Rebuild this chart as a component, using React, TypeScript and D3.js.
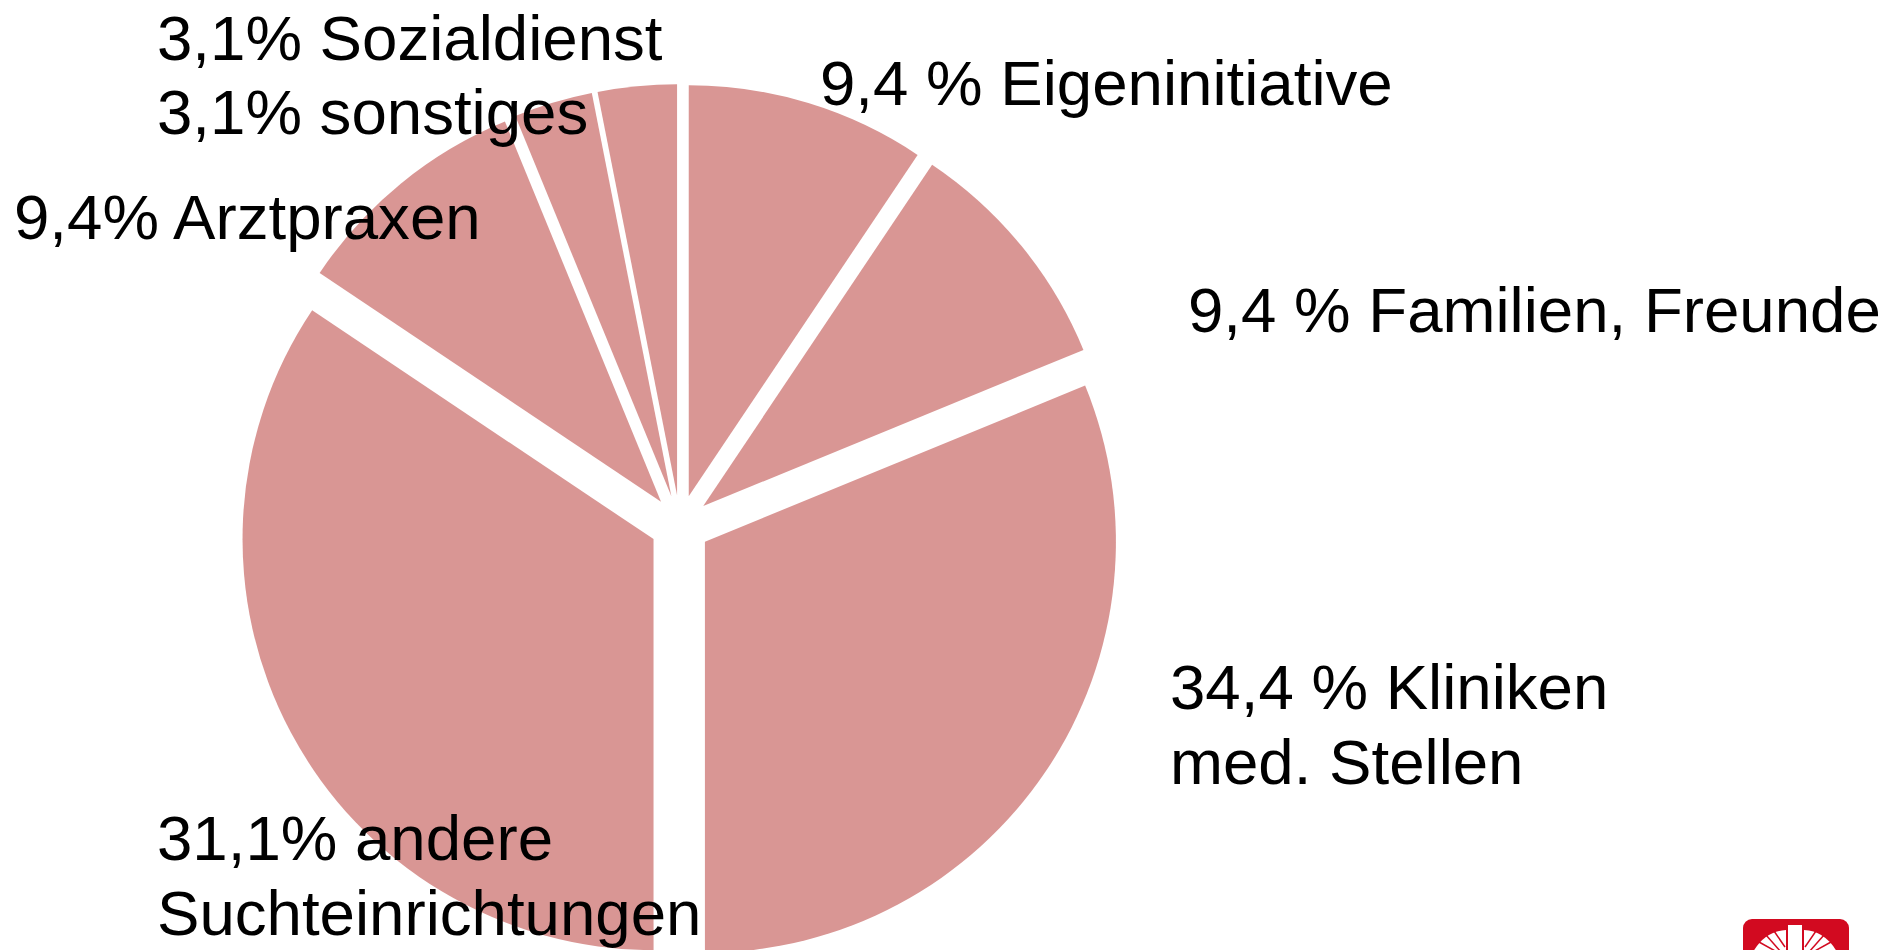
import React, { useEffect, useRef } from 'react';
import * as d3 from 'd3';

// slices clockwise from 12 o'clock (sizes as drawn)
const categories = [
  'Eigeninitiative',
  'Familien, Freunde',
  'Kliniken med. Stellen',
  'andere Suchteinrichtungen',
  'Arztpraxen',
  'sonstiges',
  'Sozialdienst',
];
const sliceValues = [9.4, 9.4, 31.2, 34.4, 9.4, 3.1, 3.1];
const labelLines = [
  ['9,4 % Eigeninitiative'],
  ['9,4 % Familien, Freunde'],
  ['34,4 % Kliniken', 'med. Stellen'],
  ['31,1% andere', 'Suchteinrichtungen'],
  ['9,4% Arztpraxen'],
  ['3,1% sonstiges'],
  ['3,1% Sozialdienst'],
];

const App = () => {
  const svgRef = useRef<SVGSVGElement>(null);

  useEffect(() => {
    const svg = d3.select(svgRef.current);
    svg.selectAll('*').remove();

    const width = 1891;
    const height = 950;
    const cx = 680;
    const cy = 525;
    const radius = 411;
    const explode = 30;
    const fill = '#D99694';

    const data = categories.map((c, i) => ({ name: c, value: sliceValues[i], lines: labelLines[i] }));

    const pie = d3.pie<any>().value(d => d.value).sort(null);
    const arc = d3.arc<any>().innerRadius(0).outerRadius(radius);

    const g = svg.append('g').attr('transform', `translate(${cx},${cy})`);

    g.selectAll('path')
      .data(pie(data))
      .enter()
      .append('path')
      .attr('d', arc)
      .attr('fill', fill)
      .attr('transform', d => {
        const a = (d.startAngle + d.endAngle) / 2;
        return `translate(${explode * Math.sin(a)},${-explode * Math.cos(a)})`;
      });

    // label placement (left x, first baseline)
    const labelPos = [
      [820, 105],
      [1188, 332],
      [1170, 709],
      [157, 860],
      [14, 239],
      [157, 134],
      [157, 60],
    ];
    const lineHeight = 75;

    const labels = svg.append('g')
      .style('font-family', '"Liberation Sans", Arial, sans-serif')
      .style('font-size', '63.6px')
      .attr('fill', '#000');

    data.forEach((d, i) => {
      const t = labels.append('text')
        .attr('x', labelPos[i][0])
        .attr('y', labelPos[i][1]);
      d.lines.forEach((line, j) => {
        t.append('tspan')
          .attr('x', labelPos[i][0])
          .attr('dy', j === 0 ? 0 : lineHeight)
          .text(line);
      });
    });

    // logo in the corner
    const logo = svg.append('g').attr('transform', 'translate(1743,919)');
    logo.append('rect')
      .attr('width', 106)
      .attr('height', 80)
      .attr('rx', 9)
      .attr('fill', '#D20A20');
    logo.append('rect')
      .attr('x', 45)
      .attr('y', 6)
      .attr('width', 14)
      .attr('height', 40)
      .attr('fill', '#fff');
    const flame = d3.path();
    flame.moveTo(10, 33);
    flame.quadraticCurveTo(22, 12, 43, 11);
    flame.lineTo(43, 33);
    flame.closePath();
    logo.append('path').attr('d', flame.toString()).attr('fill', '#fff');
    logo.append('path').attr('d', flame.toString()).attr('fill', '#fff')
      .attr('transform', 'translate(104,0) scale(-1,1)');
    [[16, 23, 34, 33], [23, 16, 38, 33], [31, 12, 42, 28]].forEach(([x1, y1, x2, y2]) => {
      logo.append('line').attr('x1', x1).attr('y1', y1).attr('x2', x2).attr('y2', y2)
        .attr('stroke', '#D20A20').attr('stroke-width', 1.5);
      logo.append('line').attr('x1', 104 - x1).attr('y1', y1).attr('x2', 104 - x2).attr('y2', y2)
        .attr('stroke', '#D20A20').attr('stroke-width', 1.5);
    });

    svg.attr('width', width).attr('height', height);
  }, []);

  return (
    <svg
      ref={svgRef}
      width={1891}
      height={950}
      style={{ position: 'absolute', left: 0, top: 0, background: '#fff' }}
    ></svg>
  );
};

export default App;
